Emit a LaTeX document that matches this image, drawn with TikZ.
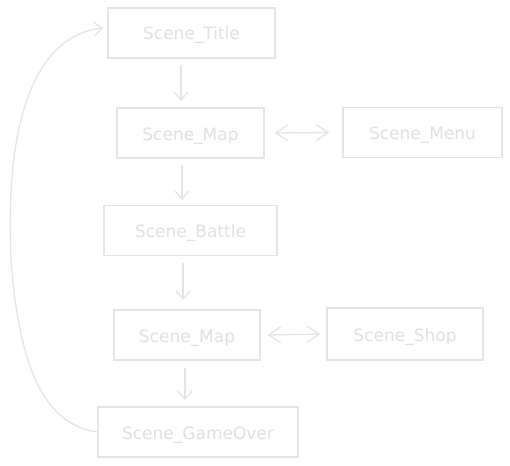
\documentclass[tikz,border=0pt]{standalone}
\usepackage{fontspec}
\setmainfont{DejaVu Sans}
\usetikzlibrary{arrows.meta}
\definecolor{sketch}{HTML}{E4E4E4}
\definecolor{sketchtext}{HTML}{E0E0E0}
\tikzset{
  scenebox/.style={draw=sketch, line width=1.3pt, rectangle, minimum height=50pt,
    text=sketchtext, font=\fontsize{17}{20}\selectfont, inner sep=0pt,
    text height=16pt, text depth=2pt},
  flow/.style={draw=sketch, line width=1.3pt, -{Straight Barb[length=8pt,width=14pt,line width=1.3pt]}},
  biflow/.style={draw=sketch, line width=1.3pt, {Straight Barb[length=12pt,width=16pt,line width=1.3pt]}-{Straight Barb[length=12pt,width=16pt,line width=1.3pt]}}
}
\begin{document}
\begin{tikzpicture}[x=1pt,y=1pt]
\useasboundingbox[fill=white] (0,0) rectangle (510,-465);
\node[scenebox, minimum width=167pt] (title) at (191.5,-33) {Scene\_Title};
\node[scenebox, minimum width=147pt] (map1) at (190.5,-133) {Scene\_Map};
\node[scenebox, minimum width=159pt] (menu) at (422.5,-132.5) {Scene\_Menu};
\node[scenebox, minimum width=173pt] (battle) at (190.5,-230.5) {Scene\_Battle};
\node[scenebox, minimum width=146pt] (map2) at (187,-335) {Scene\_Map};
\node[scenebox, minimum width=156pt, minimum height=52pt] (shop) at (405,-334) {Scene\_Shop};
\node[scenebox, minimum width=200pt] (over) at (198,-432) {Scene\_GameOver};

\coordinate (a1s) at (181,-65);  \coordinate (a1e) at (181,-101);
\coordinate (a2s) at (182,-165); \coordinate (a2e) at (182,-200);
\coordinate (a3s) at (183,-263); \coordinate (a3e) at (183,-300);
\coordinate (a4s) at (185,-368); \coordinate (a4e) at (185,-400);
\draw[flow] (a1s) -- (a1e);
\draw[flow] (a2s) -- (a2e);
\draw[flow] (a3s) -- (a3e);
\draw[flow] (a4s) -- (a4e);

\draw[biflow] ([xshift=10pt]map1.east) -- ([xshift=-13pt]menu.west);
\draw[biflow] ([xshift=7pt]map2.east) -- ([xshift=-6pt]shop.west);

\coordinate (ret) at (103,-28);
\draw[flow] (over.west) .. controls (50,-425) and (20,-380) .. (11,-260)
  .. controls (4,-110) and (40,-35) .. (ret);
\end{tikzpicture}
\end{document}
